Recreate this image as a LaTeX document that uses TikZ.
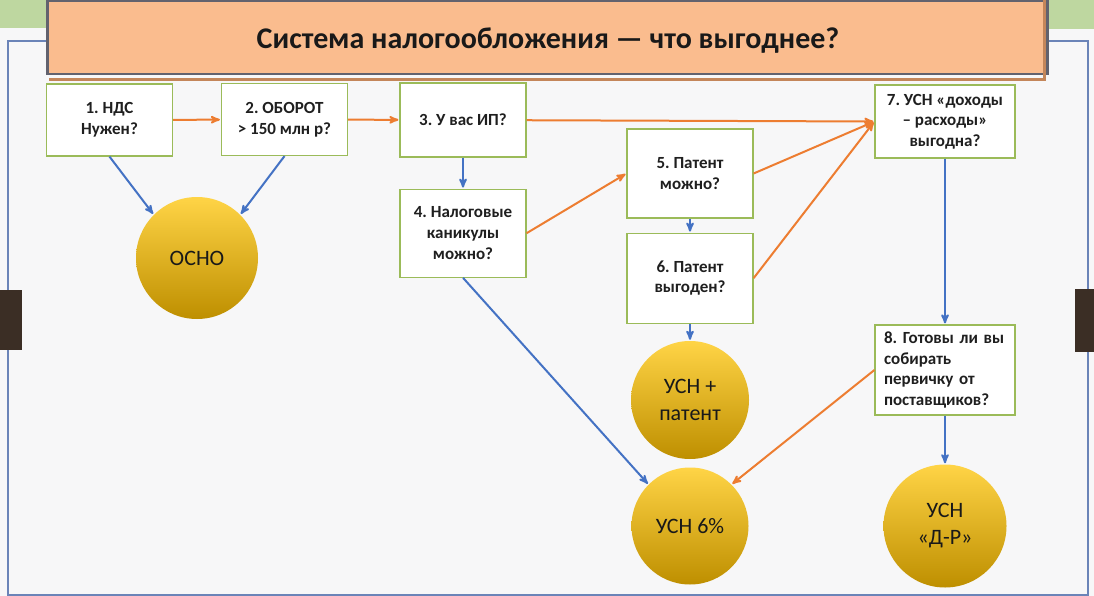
\documentclass[tikz,border=0pt]{standalone}
\usepackage{fontspec}
\setmainfont{Carlito}
\frenchspacing
\usetikzlibrary{arrows,positioning}

\definecolor{noorange}{RGB}{237,125,49}
\definecolor{yesblue}{RGB}{68,114,196}
\definecolor{boxgreen}{RGB}{155,187,89}
\definecolor{headfill}{RGB}{250,188,142}
\definecolor{headedge}{RGB}{98,98,110}
\definecolor{headbevel}{RGB}{196,134,90}
\definecolor{paper}{RGB}{247,247,248}
\definecolor{frameline}{RGB}{107,132,184}
\definecolor{leaf}{RGB}{190,215,160}
\definecolor{tabbrown}{RGB}{59,46,37}
\definecolor{goldtop}{RGB}{255,212,70}
\definecolor{goldmid}{RGB}{255,192,0}
\definecolor{goldbot}{RGB}{190,143,0}

\begin{document}
\begin{tikzpicture}[x=1pt,y=-1pt,>=stealth',shorten >=1pt,node distance=14pt,
    question/.style={draw=boxgreen,line width=1.2pt,fill=white,minimum width=126pt,
      minimum height=72pt,inner sep=0pt,align=center,text=black!88,
      font=\bfseries\fontsize{17}{20.7}\selectfont},
    result/.style={circle,minimum size=120pt,inner sep=0pt,align=center,text=black!90,
      top color=goldtop,middle color=goldmid,bottom color=goldbot,
      font=\fontsize{22}{27}\selectfont},
    headbox/.style={draw=headedge,line width=2.5pt,fill=headfill,minimum width=1000pt,
      minimum height=73pt},
    yesarrow/.style={draw=yesblue,line width=2pt},
    noarrow/.style={draw=noorange,line width=2pt}]
    \useasboundingbox (0,0) rectangle (1094,596);

    % slide background
    \fill[paper] (0,0) rectangle (1094,596);
    \fill[leaf] (0,0) rectangle (46,28);
    \fill[leaf] (1049,0) rectangle (1094,29);
    \draw[frameline,line width=1.5pt] (8,41) rectangle (1088,595);
    \fill[tabbrown] (0,290) rectangle (22,350);
    \fill[tabbrown] (1075,289) rectangle (1094,352);

    % title
    \node[headbox] (head) at (547.5,37.5) {};
    \draw[headbevel,line width=3pt] ([shift={(3,4)}]head.south west)
      -- ([shift={(-4,4)}]head.south east) -- ([shift={(-4,-3)}]head.north east);
    \node[font=\bfseries\fontsize{30}{34}\selectfont,text=black!90] (headtext) at (548,41)
      {Система налогообложения — что выгоднее?};

    % questions
    \node[question] (q1) at (109.5,120) {1. НДС\\Нужен?};
    \node[question] (q2) at (284.5,119.5) {2. ОБОРОТ\\> 150 млн р?};
    \node[question,minimum height=74pt] (q3) at (463,120) {3. У вас ИП?};
    \node[question,minimum height=88pt] (q4) [below=31pt of q3] {4. Налоговые\\каникулы\\можно?};
    \node[question,minimum height=89pt] (q5) at (690,173.5) {5. Патент\\можно?};
    \node[question,minimum height=90pt] (q6) [below=of q5] {6. Патент\\выгоден?};
    \node[question,minimum width=140pt,minimum height=73pt] (q7) at (945,121.5)
      {7. УСН «доходы\\– расходы»\\выгодна?};
    \node[question,minimum height=90pt,align=left,text width=122pt,inner xsep=9pt] (q8)
      at (945,370) {8. Готовы ли вы\\собирать\\первичку от\\поставщиков?};

    % results
    \node[result,minimum size=122pt] (osno) at (197,258) {ОСНО};
    \node[result,minimum size=118pt] (usnp) [below=17pt of q6] {УСН +\\патент};
    \node[result,minimum size=117pt] (usn6) at (690,526) {УСН 6\%};
    \node[result,minimum size=123pt] (usndr) at (945,526) {УСН\\«Д-Р»};

    % "no" branches
    \draw[->,noarrow] (q1) -- (q2);
    \draw[->,noarrow] (q2) -- (q3);
    \draw[->,noarrow] (q3) -- (q7.west);
    \draw[->,noarrow] (q4.east) -- (q5.west);
    \draw[->,noarrow] (q5.east) -- (q7.west);
    \draw[->,noarrow] (q6.east) -- (q7.west);
    \draw[->,noarrow] (q8.west) -- (usn6.north east);

    % "yes" branches
    \draw[->,yesarrow] (q1.south) -- (osno.north west);
    \draw[->,yesarrow] (q2.south) -- (osno.north east);
    \draw[->,yesarrow] (q3) -- (q4);
    \draw[->,yesarrow] (q4.south) -- (usn6.north west);
    \draw[->,yesarrow] (q5) -- (q6);
    \draw[->,yesarrow] (q6) -- (usnp);
    \draw[->,yesarrow] (q7) -- (q8);
    \draw[->,yesarrow] (q8) -- (usndr);
\end{tikzpicture}
\end{document}
